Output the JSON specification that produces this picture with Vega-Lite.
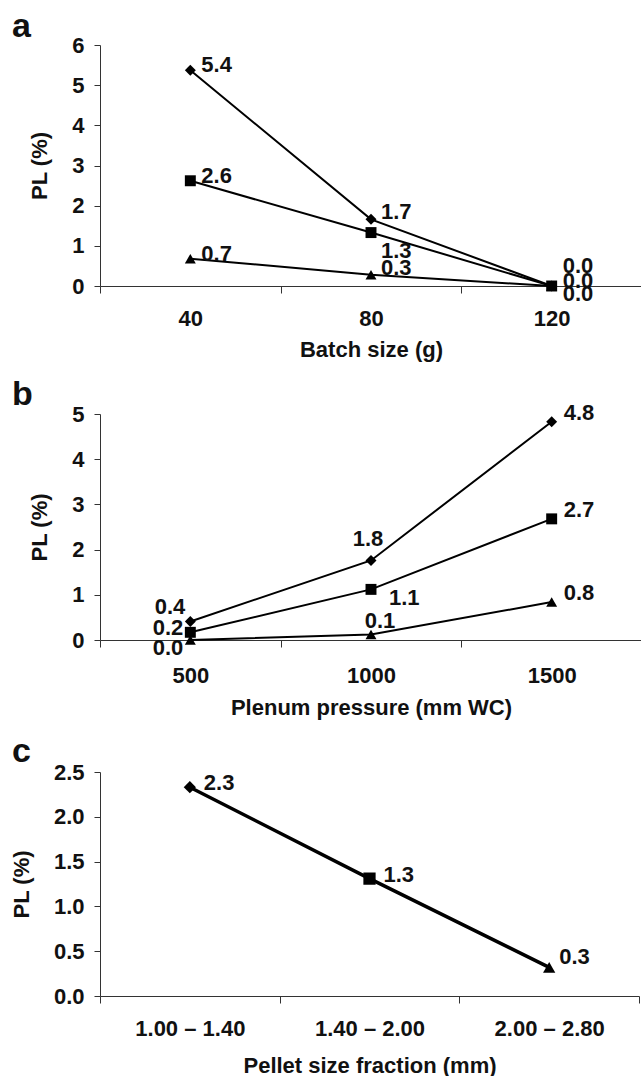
{
  "$schema": "https://vega.github.io/schema/vega-lite/v6.json",
  "padding": {"left": 10, "top": 10, "right": 0, "bottom": 0},
  "spacing": 17,
  "config": {
    "font": "Liberation Sans",
    "view": {"stroke": null},
    "axis": {"labelFont": "Liberation Sans", "labelFontSize": 22, "labelFontWeight": "bold", "labelColor": "#111", "titleFont": "Liberation Sans", "titleFontSize": 22, "titleFontWeight": "bold", "titleColor": "#111", "domainColor": "#333", "tickColor": "#333", "domainWidth": 1, "tickWidth": 1, "grid": false},
    "title": {"font": "Liberation Sans", "fontSize": 34, "fontWeight": "bold", "anchor": "start", "frame": "group", "color": "#111"},
    "text": {"font": "Liberation Sans", "fontSize": 22, "fontWeight": "bold", "color": "#111"}
  },
  "vconcat": [
    {
      "width": 542, "height": 241,
      "title": {"text": "a", "dx": -88, "offset": -37, "baseline": "alphabetic"},
      "data": {"values": [
        {"batch": 40, "series": "diamond", "pl": 5.37},
        {"batch": 80, "series": "diamond", "pl": 1.66},
        {"batch": 120, "series": "diamond", "pl": 0.0},
        {"batch": 40, "series": "square", "pl": 2.62},
        {"batch": 80, "series": "square", "pl": 1.33},
        {"batch": 120, "series": "square", "pl": 0.0},
        {"batch": 40, "series": "triangle", "pl": 0.68},
        {"batch": 80, "series": "triangle", "pl": 0.28},
        {"batch": 120, "series": "triangle", "pl": 0.0}
      ]},
      "encoding": {
        "x": {"field": "batch", "type": "ordinal", "bandPosition": 0.5, "scale": {"type": "band", "paddingInner": 0, "paddingOuter": 0}, "axis": {"title": "Batch size (g)", "labelAngle": 0, "tickBand": "extent", "tickSize": 7, "labelPadding": 15, "titlePadding": 10}},
        "y": {"field": "pl", "type": "quantitative", "scale": {"domain": [0, 6], "nice": false}, "axis": {"title": "PL (%)", "values": [0, 1, 2, 3, 4, 5, 6], "tickSize": 6, "labelPadding": 10, "titlePadding": 20}}
      },
      "layer": [
        {"mark": {"type": "line", "color": "#000", "strokeWidth": 2}, "encoding": {"detail": {"field": "series"}}},
        {"mark": {"type": "point", "filled": true, "color": "#000", "opacity": 1, "size": 120}, "encoding": {"shape": {"field": "series", "type": "nominal", "scale": {"domain": ["diamond", "square", "triangle"], "range": ["diamond", "square", "triangle-up"]}, "legend": null}}},
        {"transform": [{"filter": "datum.batch == 40"}], "mark": {"type": "text", "align": "left", "baseline": "middle", "dx": 11, "dy": -5}, "encoding": {"text": {"field": "pl", "type": "quantitative", "format": ".1f"}}},
        {"transform": [{"filter": "datum.batch == 80 && datum.series != 'square'"}], "mark": {"type": "text", "align": "left", "baseline": "middle", "dx": 10, "dy": -7}, "encoding": {"text": {"field": "pl", "type": "quantitative", "format": ".1f"}}},
        {"transform": [{"filter": "datum.batch == 80 && datum.series == 'square'"}], "mark": {"type": "text", "align": "left", "baseline": "middle", "dx": 10, "dy": 18}, "encoding": {"text": {"field": "pl", "type": "quantitative", "format": ".1f"}}},
        {"transform": [{"filter": "datum.batch == 120 && datum.series == 'diamond'"}], "mark": {"type": "text", "align": "left", "baseline": "middle", "dx": 11, "dy": -20}, "encoding": {"text": {"field": "pl", "type": "quantitative", "format": ".1f"}}},
        {"transform": [{"filter": "datum.batch == 120 && datum.series == 'square'"}], "mark": {"type": "text", "align": "left", "baseline": "middle", "dx": 11, "dy": -5}, "encoding": {"text": {"field": "pl", "type": "quantitative", "format": ".1f"}}},
        {"transform": [{"filter": "datum.batch == 120 && datum.series == 'triangle'"}], "mark": {"type": "text", "align": "left", "baseline": "middle", "dx": 11, "dy": 8}, "encoding": {"text": {"field": "pl", "type": "quantitative", "format": ".1f"}}}
      ]
    },
    {
      "width": 542, "height": 226,
      "title": {"text": "b", "dx": -88, "offset": -37, "baseline": "alphabetic"},
      "data": {"values": [
        {"pressure": 500, "series": "diamond", "pl": 0.41},
        {"pressure": 1000, "series": "diamond", "pl": 1.76},
        {"pressure": 1500, "series": "diamond", "pl": 4.83},
        {"pressure": 500, "series": "square", "pl": 0.17},
        {"pressure": 1000, "series": "square", "pl": 1.12},
        {"pressure": 1500, "series": "square", "pl": 2.68},
        {"pressure": 500, "series": "triangle", "pl": 0.0},
        {"pressure": 1000, "series": "triangle", "pl": 0.12},
        {"pressure": 1500, "series": "triangle", "pl": 0.84}
      ]},
      "encoding": {
        "x": {"field": "pressure", "type": "ordinal", "bandPosition": 0.5, "scale": {"type": "band", "paddingInner": 0, "paddingOuter": 0}, "axis": {"title": "Plenum pressure (mm WC)", "labelAngle": 0, "tickBand": "extent", "tickSize": 7, "labelPadding": 18, "titlePadding": 11}},
        "y": {"field": "pl", "type": "quantitative", "scale": {"domain": [0, 5], "nice": false}, "axis": {"title": "PL (%)", "values": [0, 1, 2, 3, 4, 5], "tickSize": 6, "labelPadding": 10, "titlePadding": 20}}
      },
      "layer": [
        {"mark": {"type": "line", "color": "#000", "strokeWidth": 2}, "encoding": {"detail": {"field": "series"}}},
        {"mark": {"type": "point", "filled": true, "color": "#000", "opacity": 1, "size": 120}, "encoding": {"shape": {"field": "series", "type": "nominal", "scale": {"domain": ["diamond", "square", "triangle"], "range": ["diamond", "square", "triangle-up"]}, "legend": null}}},
        {"transform": [{"filter": "datum.pressure == 500 && datum.series == 'diamond'"}], "mark": {"type": "text", "align": "right", "baseline": "middle", "dx": -5, "dy": -14}, "encoding": {"text": {"field": "pl", "type": "quantitative", "format": ".1f"}}},
        {"transform": [{"filter": "datum.pressure == 500 && datum.series == 'square'"}], "mark": {"type": "text", "align": "right", "baseline": "middle", "dx": -7, "dy": -4}, "encoding": {"text": {"field": "pl", "type": "quantitative", "format": ".1f"}}},
        {"transform": [{"filter": "datum.pressure == 500 && datum.series == 'triangle'"}], "mark": {"type": "text", "align": "right", "baseline": "middle", "dx": -7, "dy": 8}, "encoding": {"text": {"field": "pl", "type": "quantitative", "format": ".1f"}}},
        {"transform": [{"filter": "datum.pressure == 1000 && datum.series == 'diamond'"}], "mark": {"type": "text", "align": "center", "baseline": "middle", "dx": -3, "dy": -21}, "encoding": {"text": {"field": "pl", "type": "quantitative", "format": ".1f"}}},
        {"transform": [{"filter": "datum.pressure == 1000 && datum.series == 'square'"}], "mark": {"type": "text", "align": "left", "baseline": "middle", "dx": 18, "dy": 9}, "encoding": {"text": {"field": "pl", "type": "quantitative", "format": ".1f"}}},
        {"transform": [{"filter": "datum.pressure == 1000 && datum.series == 'triangle'"}], "mark": {"type": "text", "align": "center", "baseline": "middle", "dx": 9, "dy": -14}, "encoding": {"text": {"field": "pl", "type": "quantitative", "format": ".1f"}}},
        {"transform": [{"filter": "datum.pressure == 1500"}], "mark": {"type": "text", "align": "left", "baseline": "middle", "dx": 12, "dy": -9}, "encoding": {"text": {"field": "pl", "type": "quantitative", "format": ".1f"}}}
      ]
    },
    {
      "width": 539, "height": 224,
      "title": {"text": "c", "dx": -88, "offset": -35, "baseline": "alphabetic"},
      "data": {"values": [
        {"fraction": "1.00 – 1.40", "series": "diamond", "pl": 2.33},
        {"fraction": "1.40 – 2.00", "series": "square", "pl": 1.31},
        {"fraction": "2.00 – 2.80", "series": "triangle", "pl": 0.32}
      ]},
      "encoding": {
        "x": {"field": "fraction", "type": "ordinal", "bandPosition": 0.5, "scale": {"type": "band", "paddingInner": 0, "paddingOuter": 0}, "axis": {"title": "Pellet size fraction (mm)", "labelAngle": 0, "tickBand": "extent", "tickSize": 7, "labelPadding": 15, "titlePadding": 16}},
        "y": {"field": "pl", "type": "quantitative", "scale": {"domain": [0, 2.5], "nice": false}, "axis": {"title": "PL (%)", "values": [0, 0.5, 1, 1.5, 2, 2.5], "format": ".1f", "tickSize": 6, "labelPadding": 10, "titlePadding": 20}}
      },
      "layer": [
        {"mark": {"type": "line", "color": "#000", "strokeWidth": 3.5}, "encoding": {}},
        {"mark": {"type": "point", "filled": true, "color": "#000", "opacity": 1, "size": 150}, "encoding": {"shape": {"field": "series", "type": "nominal", "scale": {"domain": ["diamond", "square", "triangle"], "range": ["diamond", "square", "triangle-up"]}, "legend": null}}},
        {"transform": [{"filter": "datum.series != 'triangle'"}], "mark": {"type": "text", "align": "left", "baseline": "middle", "dx": 14, "dy": -4}, "encoding": {"text": {"field": "pl", "type": "quantitative", "format": ".1f"}}},
        {"transform": [{"filter": "datum.series == 'triangle'"}], "mark": {"type": "text", "align": "left", "baseline": "middle", "dx": 10, "dy": -10}, "encoding": {"text": {"field": "pl", "type": "quantitative", "format": ".1f"}}}
      ]
    }
  ]
}
